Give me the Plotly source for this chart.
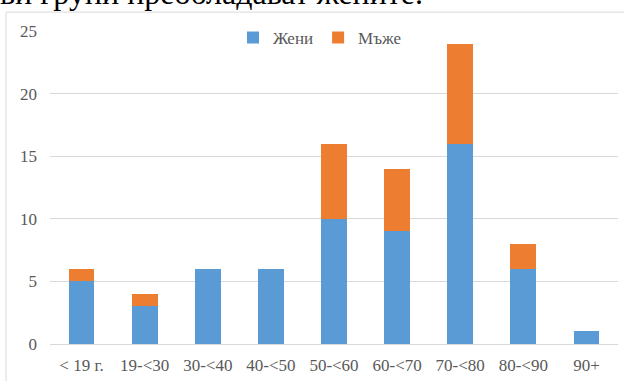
import plotly.graph_objects as go

# Age groups and counts by sex
age_groups = ["< 19 г.", "19-<30", "30-<40", "40-<50", "50-<60", "60-<70", "70-<80", "80-<90", "90+"]
women = [5, 3, 6, 6, 10, 9, 16, 6, 1]
men = [1, 1, 0, 0, 6, 5, 8, 2, 0]
y_ticks = [0, 5, 10, 15, 20, 25]

BLUE = "#5B9BD5"
ORANGE = "#ED7D31"
GRID = "#D9D9D9"
TEXT = "#595959"
SERIF = "Liberation Serif"

W, H = 624, 381
L, R, T, B = 50, 6, 31, 35
pw, ph = W - L - R, H - T - B

def px_x(x):
    return (x - L) / pw

def px_y(y):
    return (H - B - y) / ph

fig = go.Figure()
fig.add_trace(go.Bar(name="Жени", x=age_groups, y=women, marker=dict(color=BLUE, line_width=0)))
fig.add_trace(go.Bar(name="Мъже", x=age_groups, y=men, marker=dict(color=ORANGE, line_width=0)))

fig.update_layout(
    width=W, height=H,
    margin=dict(l=L, r=R, t=T, b=B),
    barmode="stack",
    bargap=0.59,
    paper_bgcolor="white",
    plot_bgcolor="white",
    font=dict(family=SERIF, size=17, color=TEXT),
    legend=dict(
        orientation="h",
        x=px_x(320), xanchor="center",
        y=px_y(38), yanchor="middle",
        font=dict(family=SERIF, size=17, color=TEXT),
        bgcolor="rgba(0,0,0,0)",
        itemwidth=30,
        traceorder="normal",
    ),
    xaxis=dict(
        showgrid=False,
        showline=True, linecolor=GRID, linewidth=1,
        ticks="", ticklabelstandoff=6,
        tickfont=dict(family=SERIF, size=17, color=TEXT),
    ),
    yaxis=dict(
        range=[0, 25],
        tickvals=y_ticks,
        showgrid=True, gridcolor=GRID, gridwidth=1,
        zeroline=False, showline=False,
        ticks="", ticklabelstandoff=12,
        tickfont=dict(family=SERIF, size=17, color=TEXT),
    ),
)

# Chart frame (continues past the right and bottom edges)
fig.add_shape(
    type="rect", xref="paper", yref="paper",
    x0=px_x(6), x1=px_x(W + 20), y0=px_y(H + 20), y1=px_y(12),
    line=dict(color=GRID, width=1), fillcolor="rgba(0,0,0,0)", layer="below",
)

# Body text line above the chart
fig.add_annotation(
    xref="paper", yref="paper",
    x=px_x(-2), xanchor="left",
    y=px_y(13), yanchor="bottom",
    text="ви групи преобладават жените.",
    showarrow=False,
    font=dict(family=SERIF, size=32, color="black"),
)

fig.write_html("out.html")
